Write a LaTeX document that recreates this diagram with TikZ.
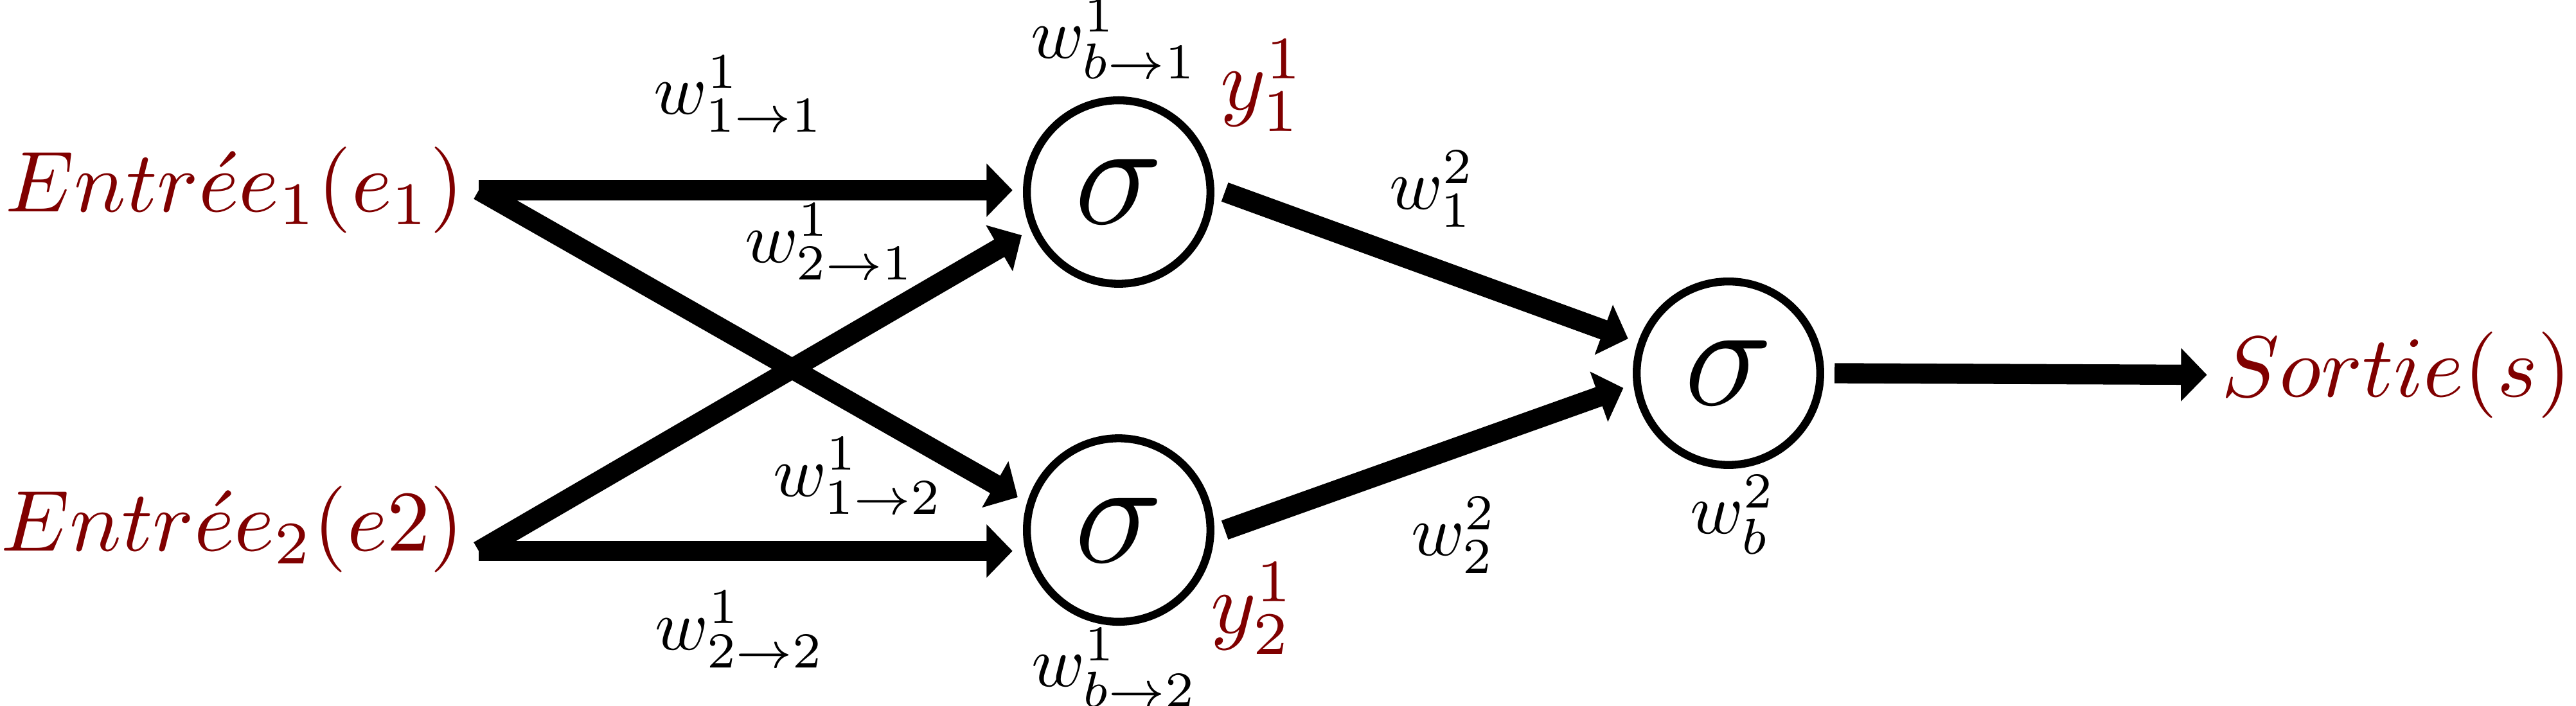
\documentclass[tikz,border=0pt]{standalone}
\usetikzlibrary{arrows.meta}

\tikzset{
  neuron/.style={draw,circle,line width=1.1pt,minimum size=25.5pt,inner sep=0pt,outer sep=2pt,font=\huge},
  io/.style={inner sep=0pt,inner xsep=1.5pt,text=red!50!black,font=\normalsize,scale=1.2},
  lbl/.style={inner sep=0pt},
  conn/.style={line width=2.8pt,-{Triangle[length=3.6pt,width=7.2pt]}}
}

\begin{document}
\begin{tikzpicture}
  \useasboundingbox (0,0) rectangle (12.58,-3.4455);
  % entrees, neurones, sortie
  \node[io,anchor=east] (e1) at (2.338,-0.929) {$Entr\acute{e}e_1(e_1)$};
  \node[io,anchor=east] (e2) at (2.338,-2.586) {$Entr\acute{e}e_2(e2)$};
  \node[neuron] (s1) at (5.463,-0.938) {$\sigma$};
  \node[neuron] (s2) at (5.463,-2.589) {$\sigma$};
  \node[neuron] (s3) at (8.441,-1.823) {$\sigma$};
  \node[io,anchor=east] (out) at (12.63,-1.831) {$Sortie(s)$};
  % sorties des neurones
  \node[io] (y1) at (6.166,-0.417) {$y_1^1$};
  \node[io] (y2) at (6.119,-2.973) {$y_2^1$};
  % poids
  \node[lbl] (w11) at (3.609,-0.458) {$w_{1\to1}^1$};
  \node[lbl] (w21) at (4.053,-1.181) {$w_{2\to1}^1$};
  \node[lbl] (w12) at (4.192,-2.324) {$w_{1\to2}^1$};
  \node[lbl] (w22) at (3.615,-3.074) {$w_{2\to2}^1$};
  \node[lbl] (wb1) at (5.441,-0.191) {$w_{b\to1}^1$};
  \node[lbl] (wb2) at (5.443,-3.260) {$w_{b\to2}^1$};
  \node[lbl] (v1) at (6.995,-0.923) {$w_1^2$};
  \node[lbl] (v2) at (7.101,-2.614) {$w_2^2$};
  \node[lbl] (vb) at (8.463,-2.514) {$w_b^2$};
  % liaisons
  \draw[conn] (e1.east) -- (e1.east -| s1.west);
  \draw[conn] (e1.east) -- (s2.162);
  \draw[conn] (e2.base east) -- (s1.204);
  \draw[conn] (e2.base east) -- (e2.base east -| s2.west);
  \draw[conn] (s1.east) -- (s3.161);
  \draw[conn] (s2.east) -- (s3.188);
  \draw[conn] (s3.east) -- (out.west);
\end{tikzpicture}
\end{document}
